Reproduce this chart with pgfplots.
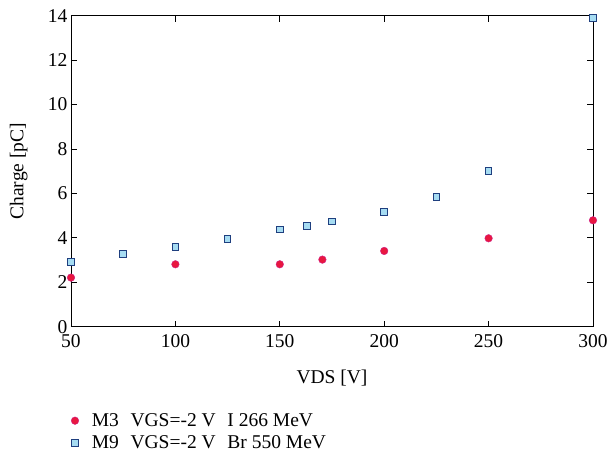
\documentclass[border=0pt]{standalone}
\usepackage{fontspec}
\setmainfont{Liberation Serif}
\usepackage{pgfplots}
\pgfplotsset{compat=1.18}
\definecolor{mred}{HTML}{E8173F}
\definecolor{medge}{HTML}{D0208A}
\definecolor{mblue}{HTML}{A6DCF2}
\definecolor{mnavy}{HTML}{1F3F7F}
\begin{document}
\begin{tikzpicture}
\useasboundingbox (-71pt,-128.3pt) rectangle (538pt,326.7pt);
\begin{axis}[
  scale only axis,
  width=522pt, height=311pt,
  xmin=50, xmax=300, ymin=0, ymax=14,
  xtick={50,100,150,200,250,300},
  ytick={0,2,4,6,8,10,12,14},
  tick align=inside,
  major tick length=6pt,
  tick style={black, line width=0.8pt},
  axis line style={line width=0.8pt},
  /pgf/number format/assume math mode=true,
  tick label style={font=\fontsize{19.5}{23}\selectfont},
  xticklabel style={yshift=-4pt},
  label style={font=\fontsize{19.5}{23}\selectfont},
  xlabel={VDS [V]},
  ylabel={Charge [pC]},
  xlabel style={yshift=-16pt},
  ylabel style={at={(axis description cs:-0.100,0.5)}, anchor=center},
  clip=false,
  legend cell align=left,
  legend style={draw=none, fill=none, at={(axis description cs:0,-0.272)}, anchor=north west,
    font=\fontsize{19.5}{23}\selectfont, row sep=4pt, inner sep=0pt},
]
\addplot[only marks, mark=*, mark size=3.8pt, mark options={fill=mred, draw=medge, line width=0.4pt}]
coordinates {(50,2.21) (100,2.81) (150,2.81) (170.4,3.02) (200,3.41) (250,3.98) (300,4.79)};
\addlegendentry{\hspace{11pt}M3\hspace{0.6em}VGS=-2 V\hspace{0.6em}I 266 MeV}
\addplot[only marks, mark=square*, mark size=3.3pt, mark options={fill=mblue, draw=mnavy, line width=1pt}]
coordinates {(50,2.90) (75,3.26) (100,3.59) (125,3.95) (150,4.37) (163,4.53) (175,4.73) (200,5.15) (225,5.85) (250,7.02) (300,13.9)};
\addlegendentry{\hspace{11pt}M9\hspace{0.6em}VGS=-2 V\hspace{0.6em}Br 550 MeV}
\end{axis}
\end{tikzpicture}
\end{document}
